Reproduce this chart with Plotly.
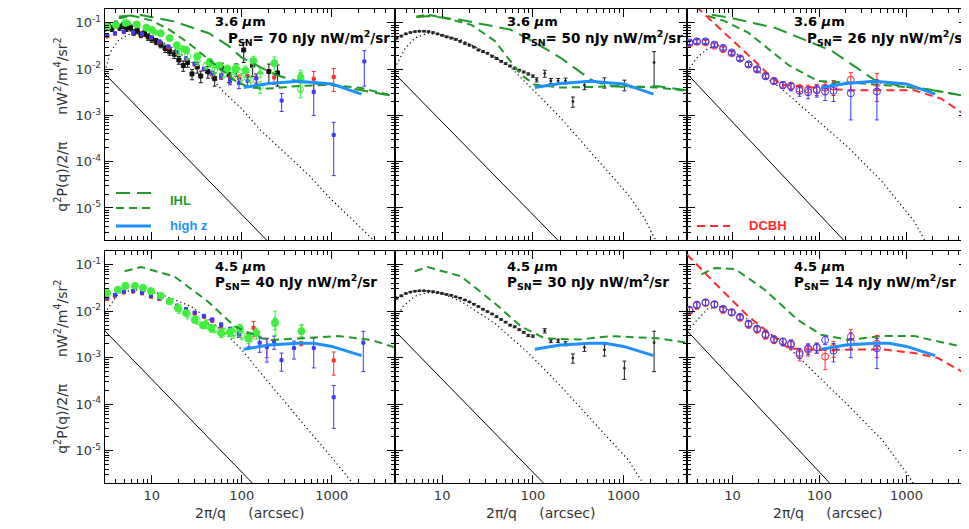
import math
import plotly.graph_objects as go

W, H = 969, 529

# ---------------- axis ranges ----------------
X_RANGE = [3.0, 5000.0]
Y_RANGE = [2e-6, 0.2]
X_TICKS = [10, 100, 1000]
X_TICKTEXT = ["10", "100", "1000"]
Y_TICKS = [1e-5, 1e-4, 1e-3, 1e-2, 1e-1]
Y_TICKTEXT = ["10<sup>-5</sup>", "10<sup>-4</sup>", "10<sup>-3</sup>", "10<sup>-2</sup>", "10<sup>-1</sup>"]

# ---------------- panel labels ----------------
band_labels = ["3.6", "3.6", "3.6", "4.5", "4.5", "4.5"]
psn_values = [70, 50, 26, 40, 30, 14]

# ---------------- shot-noise power law (solid black) ----------------
sn_x = [3.0, 5000.0]
sn_top_y = [8.0e-3, 2.88e-9]
sn_bot_y = [3.8e-3, 1.37e-9]

# ---------------- high-z model (blue) ----------------
hz_top_x = [105, 200, 427, 1000, 2138]
hz_top_y = [0.0040, 0.0049, 0.0055, 0.0048, 0.0029]
hz_bot_x = [105, 200, 427, 630, 1000, 2138]
hz_bot_y = [0.00151, 0.00186, 0.00204, 0.00204, 0.00174, 0.0011]

# ================= TOP-LEFT (3.6um, P_SN=70) =================
tl_dot_x = [3.0, 3.5, 4.3, 5.5, 7.1, 10, 15.8, 25, 43, 63, 98, 158, 316, 562, 912, 1585, 2754, 5000]
tl_dot_y = [0.0089, 0.024, 0.043, 0.056, 0.062, 0.050, 0.032, 0.0166, 0.0076, 0.0032, 0.00145,
            5.0e-4, 1.41e-4, 5.0e-5, 1.78e-5, 6.3e-6, 2.24e-6, 8e-7]
tl_ihl1_x = [4.3, 7.6, 17.8, 43, 71, 100, 234, 427, 1175, 2138, 5000]
tl_ihl1_y = [0.138, 0.148, 0.107, 0.060, 0.032, 0.0178, 0.0076, 0.0054, 0.0043, 0.0035, 0.0026]
tl_ihl2_x = [4.3, 6.3, 10, 15.8, 25, 40, 63, 89, 126, 200, 398, 912, 2138, 5000]
tl_ihl2_y = [0.126, 0.141, 0.112, 0.071, 0.038, 0.0178, 0.0089, 0.0052, 0.0040, 0.0038, 0.0043,
             0.0046, 0.0039, 0.0026]
tl_blk_x = [3.0, 3.3, 3.6, 4.0, 4.4, 4.8, 5.2, 5.8, 6.3, 6.9, 7.6, 8.3, 9.1, 10, 11.2, 12.6, 14.1,
            15.8, 17.8, 20, 22.4, 25, 28, 32, 35, 42, 50, 60, 72, 87, 105, 132, 200, 250]
tl_blk_y = [0.079, 0.087, 0.076, 0.095, 0.081, 0.089, 0.076, 0.079, 0.063, 0.068, 0.056, 0.060,
            0.050, 0.045, 0.040, 0.034, 0.028, 0.024, 0.021, 0.0158, 0.012, 0.014, 0.0079, 0.0112,
            0.0071, 0.0089, 0.0063, 0.0105, 0.0076, 0.0100, 0.026, 0.0120, 0.0089, 0.0083]
tl_blk_e = [0.012, 0.013, 0.011, 0.014, 0.012, 0.013, 0.011, 0.012, 0.009, 0.010, 0.008, 0.009,
            0.008, 0.007, 0.006, 0.005, 0.005, 0.004, 0.004, 0.003, 0.003, 0.003, 0.002, 0.003,
            0.002, 0.0025, 0.002, 0.003, 0.0025, 0.003, 0.012, 0.005, 0.004, 0.004]
tl_grn_x = [3.2, 4.0, 5.1, 6.8, 8.7, 10, 12.6, 15.8, 19, 24, 32, 44, 56, 69, 85, 110, 135, 230, 450]
tl_grn_y = [0.083, 0.090, 0.100, 0.093, 0.079, 0.071, 0.060, 0.047, 0.033, 0.026, 0.019, 0.0145,
            0.012, 0.0102, 0.0102, 0.0093, 0.0150, 0.0135, 0.0059]
tl_grn_e = [0.01, 0.01, 0.012, 0.011, 0.01, 0.009, 0.008, 0.006, 0.005, 0.004, 0.003, 0.0025,
            0.002, 0.002, 0.0025, 0.0025, 0.004, 0.005, 0.0025]
tl_gro_x = [20, 25, 32, 40, 50, 63, 80, 100, 126, 160, 450]
tl_gro_y = [0.024, 0.019, 0.015, 0.012, 0.0095, 0.008, 0.0072, 0.0065, 0.0058, 0.0042, 0.0036]
tl_gro_e = [0.004, 0.003, 0.003, 0.002, 0.002, 0.0015, 0.0015, 0.0015, 0.0015, 0.0012, 0.0012]
tl_grt_x = [5.5, 11, 22, 45, 90, 160, 450]
tl_grt_y = [0.10, 0.062, 0.028, 0.013, 0.0105, 0.0085, 0.0075]
tl_grt_e = [0.01, 0.007, 0.004, 0.002, 0.002, 0.002, 0.002]
tl_red_x = [3.2, 3.9, 4.9, 6.2, 7.8, 9.8, 12.2, 15.3, 19.2, 24, 30, 38, 47, 59, 74, 93, 116, 145,
            229, 630, 1050]
tl_red_y = [0.051, 0.058, 0.063, 0.062, 0.056, 0.048, 0.038, 0.0295, 0.022, 0.0166, 0.0126, 0.0100,
            0.0079, 0.0069, 0.0060, 0.0063, 0.0071, 0.0066, 0.0066, 0.0062, 0.0068]
tl_red_e = [0.002, 0.002, 0.002, 0.002, 0.002, 0.002, 0.0015, 0.0012, 0.001, 0.0009, 0.0008, 0.0008,
            0.0008, 0.0009, 0.001, 0.0012, 0.0015, 0.0015, 0.0019, 0.0027, 0.0035]
tl_blu_x = [3.2, 3.9, 4.9, 6.2, 7.8, 9.8, 12.2, 15.3, 19.2, 24, 30, 38, 47, 59, 74, 93, 116, 145,
            277, 630, 1050, 2300]
tl_blu_y = [0.054, 0.060, 0.065, 0.063, 0.058, 0.049, 0.040, 0.031, 0.0234, 0.0174, 0.0132, 0.0102,
            0.0083, 0.0071, 0.0056, 0.0050, 0.0056, 0.0063, 0.0021, 0.0032, 0.00038, 0.0147]
tl_blu_e = [0.002, 0.002, 0.002, 0.002, 0.002, 0.002, 0.0015, 0.0012, 0.001, 0.0009, 0.0008, 0.0008,
            0.0008, 0.0009, 0.001, 0.0012, 0.0015, 0.0015, 0.00088, 0.0022, 0.00033, 0.0104]

# ================= TOP-MIDDLE (3.6um, P_SN=50) =================
tm_dot_x = [3.0, 3.9, 5.0, 6.9, 10, 16.2, 25, 38, 58, 89, 135, 204, 316, 479, 724, 1122, 1698, 2188, 3162]
tm_dot_y = [0.0105, 0.028, 0.047, 0.060, 0.054, 0.043, 0.028, 0.0186, 0.0105, 0.0046, 0.0020,
            8.7e-4, 3.2e-4, 1.29e-4, 5.2e-5, 1.95e-5, 6.0e-6, 2.24e-6, 1.0e-6]
tm_ihl1_x = [5.2, 7.1, 15.8, 56, 105, 204, 437, 617, 1122, 2399, 5000]
tm_ihl1_y = [0.132, 0.141, 0.117, 0.072, 0.038, 0.0174, 0.0059, 0.0046, 0.0040, 0.0043, 0.0035]
tm_ihl2_x = [5.2, 6.9, 10, 21, 38, 74, 105, 204, 1122, 2399, 5000]
tm_ihl2_y = [0.138, 0.151, 0.132, 0.091, 0.041, 0.0076, 0.0046, 0.0040, 0.0043, 0.0040, 0.0034]
tm_blk_x = [3.16, 3.55, 3.98, 4.47, 5.01, 5.62, 6.31, 7.08, 7.94, 8.91, 10, 11.2, 12.6, 14.1, 15.8,
            17.8, 20, 22.4, 25.1, 28.2, 31.6, 35.5, 39.8, 44.7, 50.1, 56.2, 63.1, 70.8, 79.4, 89.1,
            100, 110, 135, 158, 190, 229, 276, 370, 615, 1020, 2170]
tm_blk_y = [0.047, 0.052, 0.058, 0.062, 0.065, 0.066, 0.066, 0.065, 0.062, 0.058, 0.054, 0.050,
            0.047, 0.044, 0.040, 0.036, 0.033, 0.030, 0.026, 0.024, 0.022, 0.019, 0.017, 0.0148,
            0.0132, 0.0117, 0.0105, 0.0095, 0.0087, 0.0079, 0.0071, 0.0059, 0.0081, 0.0056, 0.0056,
            0.0056, 0.0020, 0.0045, 0.0052, 0.0046, 0.0140]
tm_blk_e = [0.002, 0.002, 0.002, 0.002, 0.002, 0.002, 0.002, 0.002, 0.002, 0.002, 0.002, 0.002,
            0.0018, 0.0017, 0.0016, 0.0014, 0.0013, 0.0012, 0.0011, 0.001, 0.0009, 0.0008, 0.0007,
            0.0006, 0.0006, 0.0005, 0.0005, 0.0004, 0.0004, 0.0004, 0.0004, 0.0006, 0.0014, 0.0007,
            0.0007, 0.0008, 0.0005, 0.0009, 0.0013, 0.0012, 0.010]

# ================= TOP-RIGHT (3.6um, P_SN=26) =================
tr_dot_x = [3.0, 4.0, 5.2, 7.1, 10, 15.8, 24, 36, 89, 219, 525, 1230, 1622, 2512]
tr_dot_y = [0.0089, 0.0186, 0.028, 0.033, 0.025, 0.0132, 0.0065, 0.0039, 8.7e-4, 1.95e-4, 3.7e-5,
            5.1e-6, 2.0e-6, 6.3e-7]
tr_ihl1_x = [5.8, 10, 31, 138, 427, 871, 1995, 5000]
tr_ihl1_y = [0.151, 0.126, 0.078, 0.025, 0.0059, 0.0043, 0.0035, 0.0026]
tr_ihl2_x = [5.2, 7.9, 15.1, 44, 95, 513, 1585, 5000]
tr_ihl2_y = [0.141, 0.112, 0.062, 0.0123, 0.0056, 0.0046, 0.0038, 0.0026]
tr_dcbh_x = [3.0, 4.0, 15.1, 28, 36, 87, 214, 1230, 2512, 5000]
tr_dcbh_y = [0.355, 0.209, 0.0204, 0.0068, 0.0046, 0.0040, 0.0035, 0.0035, 0.0023, 0.00095]
tr_pts_x = [3.2, 3.9, 4.9, 6.2, 7.8, 9.8, 12.2, 15.3, 19.2, 24, 30, 38, 47, 59, 74, 93, 116, 145, 229, 457]
tr_red_y = [0.036, 0.039, 0.038, 0.032, 0.027, 0.022, 0.017, 0.0126, 0.0098, 0.0072, 0.0056, 0.0046,
            0.0044, 0.0038, 0.0036, 0.0037, 0.0040, 0.0042, 0.0059, 0.0050]
tr_red_e = [0.004, 0.004, 0.004, 0.003, 0.003, 0.002, 0.0017, 0.0013, 0.001, 0.0008, 0.0007, 0.0007,
            0.0008, 0.0008, 0.0009, 0.001, 0.0012, 0.0015, 0.0025, 0.0030]
tr_blu_y = [0.038, 0.040, 0.040, 0.034, 0.029, 0.023, 0.017, 0.0128, 0.0100, 0.0070, 0.0055, 0.0045,
            0.0042, 0.0034, 0.0032, 0.0035, 0.0033, 0.0034, 0.0030, 0.0033]
tr_blu_e = [0.004, 0.004, 0.004, 0.003, 0.003, 0.002, 0.0017, 0.0013, 0.001, 0.0008, 0.0007, 0.0007,
            0.0008, 0.0008, 0.0009, 0.001, 0.0012, 0.0014, 0.0022, 0.0025]

# ================= BOTTOM-LEFT (4.5um, P_SN=40) =================
bl_dot_x = [3.0, 4.3, 6.5, 11.7, 27.5, 43, 65, 100, 151, 234, 355, 550, 1000, 1698, 2512]
bl_dot_y = [0.0091, 0.0245, 0.029, 0.0245, 0.0126, 0.0066, 0.0034, 0.00148, 5.5e-4, 2.04e-4,
            7.6e-5, 2.75e-5, 7.1e-6, 2.0e-6, 8e-7]
bl_ihl_x = [5.0, 7.6, 17.8, 42, 83, 166, 214, 501, 1175, 2754, 5000]
bl_ihl_y = [0.072, 0.089, 0.056, 0.0162, 0.0047, 0.0026, 0.0024, 0.0026, 0.0029, 0.0024, 0.00166]
bl_red_x = [3.2, 3.9, 4.9, 6.2, 7.8, 9.8, 12.2, 15.3, 19.2, 24, 30, 38, 47, 59, 74, 93, 116, 135,
            190, 457, 1050]
bl_red_y = [0.0182, 0.0214, 0.0251, 0.0263, 0.024, 0.0204, 0.0182, 0.0155, 0.0126, 0.0105, 0.0089,
            0.0076, 0.0063, 0.0048, 0.0038, 0.0033, 0.0028, 0.0044, 0.0018, 0.0020, 0.00087]
bl_red_e = [0.0012, 0.0012, 0.0012, 0.0012, 0.0012, 0.001, 0.001, 0.0009, 0.0008, 0.0007, 0.0006,
            0.0005, 0.0005, 0.0005, 0.0005, 0.0005, 0.0005, 0.0016, 0.0008, 0.0002, 0.00045]
bl_blu_x = [3.2, 3.9, 4.9, 6.2, 7.8, 9.8, 12.2, 15.3, 19.2, 24, 30, 38, 47, 59, 74, 93, 120, 158,
            190, 229, 276, 380, 630, 1050, 2240]
bl_blu_y = [0.0195, 0.0224, 0.0263, 0.0275, 0.025, 0.0214, 0.019, 0.0162, 0.0132, 0.0110, 0.0093,
            0.0079, 0.0066, 0.0051, 0.0040, 0.0032, 0.0024, 0.0021, 0.0017, 0.0022, 0.00088, 0.0016,
            0.0016, 0.00014, 0.0021]
bl_blu_e = [0.0012, 0.0012, 0.0012, 0.0012, 0.0012, 0.001, 0.001, 0.0009, 0.0008, 0.0007, 0.0006,
            0.0005, 0.0005, 0.0005, 0.0005, 0.0005, 0.0007, 0.0008, 0.0009, 0.0007, 0.00037, 0.00067,
            0.0010, 0.00011, 0.0016]
bl_grn_x = [3.2, 4.2, 5.1, 6.5, 8.0, 9.8, 12.6, 15.8, 19.5, 24, 30, 37, 46, 59, 74, 95, 118, 145, 234, 460]
bl_grn_y = [0.0245, 0.029, 0.035, 0.035, 0.032, 0.027, 0.0214, 0.0162, 0.0117, 0.0091, 0.0065,
            0.0050, 0.0043, 0.0034, 0.0035, 0.0043, 0.0026, 0.0034, 0.0055, 0.0037]
bl_grn_e = [0.003, 0.003, 0.004, 0.004, 0.003, 0.003, 0.0025, 0.002, 0.0015, 0.0012, 0.001, 0.0008,
            0.0008, 0.0007, 0.0007, 0.0009, 0.0006, 0.0009, 0.0015, 0.0012]
bl_gro_x = [20, 25, 32, 40, 50, 63, 80, 100, 126]
bl_gro_y = [0.011, 0.0085, 0.0065, 0.0052, 0.0042, 0.0036, 0.0032, 0.0030, 0.0028]
bl_gro_e = [0.002, 0.0017, 0.0013, 0.001, 0.0008, 0.0007, 0.0006, 0.0006, 0.0006]
bl_grt_x = [5.0, 10, 20, 40, 80, 234, 460]
bl_grt_y = [0.033, 0.026, 0.012, 0.0055, 0.0038, 0.0065, 0.0040]
bl_grt_e = [0.004, 0.003, 0.0015, 0.001, 0.0008, 0.0035, 0.0012]

# ================= BOTTOM-MIDDLE (4.5um, P_SN=30) =================
bm_dot_x = [3.0, 3.7, 5.0, 6.9, 9.8, 16.2, 38, 89, 204, 479, 1122, 1585, 2239]
bm_dot_y = [0.0060, 0.0126, 0.021, 0.025, 0.0245, 0.0162, 0.0055, 0.00126, 2.4e-4, 3.9e-5, 6.3e-6,
            2.2e-6, 8e-7]
bm_ihl_x = [5.0, 6.9, 16.2, 38, 74, 135, 316, 724, 2399, 5000]
bm_ihl_y = [0.072, 0.089, 0.056, 0.0148, 0.0047, 0.0026, 0.00245, 0.0029, 0.0026, 0.0021]
bm_blk_x = [3.16, 3.55, 3.98, 4.47, 5.01, 5.62, 6.31, 7.08, 7.94, 8.91, 10, 11.2, 12.6, 14.1, 15.8,
            17.8, 20, 22.4, 25.1, 28.2, 31.6, 35.5, 39.8, 44.7, 50.1, 56.2, 63.1, 70.8, 79.4, 89.1,
            100, 135, 158, 190, 229, 276, 370, 615, 1020, 2170]
bm_blk_y = [0.0191, 0.0214, 0.024, 0.0257, 0.0269, 0.0275, 0.0275, 0.0269, 0.0263, 0.0251, 0.024,
            0.0229, 0.0219, 0.0204, 0.0191, 0.0174, 0.0158, 0.0141, 0.0126, 0.011, 0.0098, 0.0087,
            0.0076, 0.0066, 0.0058, 0.0050, 0.0046, 0.0040, 0.0035, 0.0030, 0.0029, 0.0038, 0.0023,
            0.0023, 0.0020, 0.00098, 0.00166, 0.00148, 0.00059, 0.0021]
bm_blk_e = [0.0008, 0.0008, 0.0008, 0.0008, 0.0008, 0.0008, 0.0008, 0.0008, 0.0008, 0.0008, 0.0008,
            0.0007, 0.0007, 0.0006, 0.0006, 0.0005, 0.0005, 0.0005, 0.0004, 0.0004, 0.0003, 0.0003,
            0.0003, 0.0002, 0.0002, 0.0002, 0.0002, 0.00015, 0.00015, 0.00015, 0.00015, 0.0004,
            0.0002, 0.0002, 0.0002, 0.00022, 0.0003, 0.0004, 0.00025, 0.0016]

# ================= BOTTOM-RIGHT (4.5um, P_SN=14) =================
br_dot_x = [3.0, 4.0, 5.2, 7.1, 10, 15.8, 25, 36, 89, 219, 525, 1072, 1400]
br_dot_y = [0.0038, 0.0066, 0.0112, 0.0126, 0.0100, 0.0063, 0.0035, 0.0024, 4.7e-4, 8.9e-5, 1.7e-5,
            2.75e-6, 1.2e-6]
br_ihl_x = [4.4, 6.3, 10.7, 23.4, 56, 105, 214, 513, 1230, 5000]
br_ihl_y = [0.062, 0.085, 0.081, 0.029, 0.0065, 0.0031, 0.0024, 0.0029, 0.0029, 0.00162]
br_dcbh_x = [3.0, 6.2, 15.1, 44, 105, 513, 1230, 2291, 5000]
br_dcbh_y = [0.166, 0.041, 0.0078, 0.00158, 0.00145, 0.00151, 0.00126, 0.00098, 4.3e-4]
br_pts_x = [3.2, 3.9, 4.9, 6.2, 7.8, 9.8, 12.2, 15.3, 19.2, 24, 30, 38, 47, 59, 74, 93, 116, 145, 229, 457]
br_red_y = [0.0102, 0.0132, 0.0151, 0.0138, 0.0107, 0.0093, 0.0072, 0.0051, 0.0040, 0.0030, 0.0024,
            0.0022, 0.0019, 0.00115, 0.00148, 0.00162, 0.00105, 0.00162, 0.0028, 0.0020]
br_blu_y = [0.0107, 0.0138, 0.0155, 0.0141, 0.0112, 0.0095, 0.0076, 0.0054, 0.0042, 0.0032, 0.0025,
            0.0022, 0.0020, 0.00126, 0.00158, 0.00166, 0.0024, 0.00141, 0.0022, 0.00158]
br_pts_e = [0.0018, 0.0022, 0.0022, 0.002, 0.0016, 0.0013, 0.001, 0.0008, 0.0006, 0.0005, 0.0004,
            0.0004, 0.0004, 0.0003, 0.0004, 0.0004, 0.0005, 0.0006, 0.0012, 0.0010]

# ---------------- styles ----------------
C_IHL = "#1f9a2a"
C_GRN = "#40ee40"
C_HZ = "#1e90ff"
C_RED = "#ff2a2a"
C_BLU = "#3a3aff"
C_DOT = "#000000"
FONT_TXT = "DejaVu Sans"

cols_px = [(96.7, 386.7), (386.7, 679.0), (679.0, 959.3)]
rows_px = [(1.0, 232.3), (242.7, 475.0)]

fig = go.Figure()


def ax_names(i):
    s = "" if i == 1 else str(i)
    return "x" + s, "y" + s


def add_line(i, x, y, color, width, dash="solid"):
    xa, ya = ax_names(i)
    fig.add_trace(go.Scatter(x=x, y=y, mode="lines", xaxis=xa, yaxis=ya,
                             line=dict(color=color, width=width, dash=dash),
                             showlegend=False, hoverinfo="skip"))


def add_pts(i, x, y, err, color, symbol, size, lw=1):
    xa, ya = ax_names(i)
    fig.add_trace(go.Scatter(x=x, y=y, mode="markers", xaxis=xa, yaxis=ya,
                             marker=dict(color=color, symbol=symbol, size=size,
                                         line=dict(color=color, width=lw)),
                             error_y=dict(type="data", array=err, visible=True, color=color,
                                          thickness=1, width=2),
                             showlegend=False, hoverinfo="skip"))


DASH_LONG = "14px,7px"
DASH_SHORT = "8px,5px"
DASH_DOT = "1.2px,3px"

# panel 1 : top-left
add_line(1, tl_dot_x, tl_dot_y, C_DOT, 1.2, DASH_DOT)
add_line(1, sn_x, sn_top_y, "#000", 1)
add_pts(1, tl_blk_x, tl_blk_y, tl_blk_e, "#111", "square", 4)
add_pts(1, tl_red_x, tl_red_y, tl_red_e, C_RED, "square", 3)
add_pts(1, tl_blu_x, tl_blu_y, tl_blu_e, C_BLU, "square", 3)
add_pts(1, tl_gro_x, tl_gro_y, tl_gro_e, C_GRN, "circle-open", 6)
add_pts(1, tl_grt_x, tl_grt_y, tl_grt_e, C_GRN, "triangle-up", 6)
add_pts(1, tl_grn_x, tl_grn_y, tl_grn_e, C_GRN, "circle", 7)
add_line(1, tl_ihl1_x, tl_ihl1_y, C_IHL, 2, DASH_LONG)
add_line(1, tl_ihl2_x, tl_ihl2_y, C_IHL, 2, DASH_SHORT)
add_line(1, hz_top_x, hz_top_y, C_HZ, 3)

# panel 2 : top-middle
add_line(2, tm_dot_x, tm_dot_y, C_DOT, 1.2, DASH_DOT)
add_line(2, sn_x, sn_top_y, "#000", 1)
add_pts(2, tm_blk_x, tm_blk_y, tm_blk_e, "#222", "circle", 2)
add_line(2, tm_ihl1_x, tm_ihl1_y, C_IHL, 2, DASH_LONG)
add_line(2, tm_ihl2_x, tm_ihl2_y, C_IHL, 2, DASH_SHORT)
add_line(2, hz_top_x, hz_top_y, C_HZ, 3)

# panel 3 : top-right
add_line(3, tr_dot_x, tr_dot_y, C_DOT, 1.2, DASH_DOT)
add_line(3, sn_x, sn_top_y, "#000", 1)
add_line(3, tr_ihl1_x, tr_ihl1_y, C_IHL, 2, DASH_LONG)
add_line(3, tr_ihl2_x, tr_ihl2_y, C_IHL, 2, DASH_SHORT)
add_line(3, tr_dcbh_x, tr_dcbh_y, C_RED, 2, DASH_SHORT)
add_pts(3, tr_pts_x, tr_red_y, tr_red_e, C_RED, "circle-open", 7)
add_pts(3, tr_pts_x, tr_blu_y, tr_blu_e, C_BLU, "circle-open", 7)
add_line(3, hz_top_x, hz_top_y, C_HZ, 3)

# panel 4 : bottom-left
add_line(4, bl_dot_x, bl_dot_y, C_DOT, 1.2, DASH_DOT)
add_line(4, sn_x, sn_bot_y, "#000", 1)
add_pts(4, bl_red_x, bl_red_y, bl_red_e, C_RED, "square", 3)
add_pts(4, bl_blu_x, bl_blu_y, bl_blu_e, C_BLU, "square", 3)
add_pts(4, bl_gro_x, bl_gro_y, bl_gro_e, C_GRN, "circle-open", 6)
add_pts(4, bl_grt_x, bl_grt_y, bl_grt_e, C_GRN, "triangle-up", 6)
add_pts(4, bl_grn_x, bl_grn_y, bl_grn_e, C_GRN, "circle", 7)
add_line(4, bl_ihl_x, bl_ihl_y, C_IHL, 2, DASH_SHORT)
add_line(4, hz_bot_x, hz_bot_y, C_HZ, 3)

# panel 5 : bottom-middle
add_line(5, bm_dot_x, bm_dot_y, C_DOT, 1.2, DASH_DOT)
add_line(5, sn_x, sn_bot_y, "#000", 1)
add_pts(5, bm_blk_x, bm_blk_y, bm_blk_e, "#222", "circle", 2)
add_line(5, bm_ihl_x, bm_ihl_y, C_IHL, 2, DASH_SHORT)
add_line(5, hz_bot_x, hz_bot_y, C_HZ, 3)

# panel 6 : bottom-right
add_line(6, br_dot_x, br_dot_y, C_DOT, 1.2, DASH_DOT)
add_line(6, sn_x, sn_bot_y, "#000", 1)
add_line(6, br_ihl_x, br_ihl_y, C_IHL, 2, DASH_SHORT)
add_line(6, br_dcbh_x, br_dcbh_y, C_RED, 2, DASH_SHORT)
add_pts(6, br_pts_x, br_red_y, br_pts_e, C_RED, "circle-open", 7)
add_pts(6, br_pts_x, br_blu_y, br_pts_e, C_BLU, "circle-open", 7)
add_line(6, hz_bot_x, hz_bot_y, C_HZ, 3)

# ---------------- axes ----------------
x_minor = [m * 10 ** d for d in range(0, 4) for m in range(2, 10) if 3 <= m * 10 ** d <= 5000]
y_minor = [m * 10.0 ** d for d in range(-6, 0) for m in range(2, 10) if 2e-6 <= m * 10.0 ** d <= 0.2]
tick_font = dict(family=FONT_TXT, size=13, color="#333")

layout = dict(width=W, height=H, margin=dict(l=0, r=0, t=0, b=0),
              paper_bgcolor="white", plot_bgcolor="white", showlegend=False)

for r in range(2):
    for c in range(3):
        i = r * 3 + c + 1
        s = "" if i == 1 else str(i)
        x0, x1 = cols_px[c]
        y0, y1 = rows_px[r]
        common = dict(showline=True, linecolor="#000", linewidth=1, mirror="allticks",
                      ticks="inside", ticklen=8, tickwidth=1, tickcolor="#000",
                      showgrid=False, zeroline=False, tickfont=tick_font)
        layout["xaxis" + s] = dict(
            type="log", range=[math.log10(X_RANGE[0]), math.log10(X_RANGE[1])],
            domain=[x0 / W, x1 / W], anchor="y" + s,
            tickmode="array", tickvals=X_TICKS, ticktext=X_TICKTEXT,
            showticklabels=(r == 1),
            minor=dict(tickmode="array", tickvals=x_minor, ticks="inside", ticklen=4,
                       tickcolor="#000", showgrid=False),
            **common)
        layout["yaxis" + s] = dict(
            type="log", range=[math.log10(Y_RANGE[0]), math.log10(Y_RANGE[1])],
            domain=[1 - y1 / H, 1 - y0 / H], anchor="x" + s,
            tickmode="array", tickvals=Y_TICKS, ticktext=Y_TICKTEXT,
            showticklabels=(c == 0),
            minor=dict(tickmode="array", tickvals=y_minor, ticks="inside", ticklen=4,
                       tickcolor="#000", showgrid=False),
            **common)

fig.update_layout(**layout)

# ---------------- text ----------------
ann = []
NB = "\u00a0"
ytitle = ("q<sup>2</sup>P(q)/2/π" + NB * 6 + "nW<sup>2</sup>/m<sup>4</sup>/sr<sup>2</sup>")
xtitle = "2π/q" + NB * 5 + "(arcsec)"
for r in range(2):
    y0, y1 = rows_px[r]
    ann.append(dict(x=53 / W, y=1 - (y0 + y1) / 2 / H, xref="paper", yref="paper", text=ytitle,
                    textangle=-90, showarrow=False, xanchor="center", yanchor="middle",
                    font=dict(family=FONT_TXT, size=14, color="#333")))
for c in range(3):
    x0, x1 = cols_px[c]
    ann.append(dict(x=(x0 + x1) / 2 / W, y=1 - 505 / H, xref="paper", yref="paper", text=xtitle,
                    showarrow=False, xanchor="center", yanchor="middle",
                    font=dict(family=FONT_TXT, size=14, color="#333")))

label_pos = [(205, 13, 218, 30), (497, 13, 511, 30), (784, 13, 797, 30),
             (205, 258, 205, 274), (497, 258, 497, 274), (784, 258, 784, 274)]
for k, (bx, by, px, py) in enumerate(label_pos):
    ann.append(dict(x=bx / W, y=1 - by / H, xref="paper", yref="paper",
                    text="<b>%s <i>μ</i>m</b>" % band_labels[k], showarrow=False,
                    xanchor="left", yanchor="middle",
                    font=dict(family=FONT_TXT, size=13, color="#000")))
    ann.append(dict(x=px / W, y=1 - py / H, xref="paper", yref="paper",
                    text="<b>P<sub>SN</sub>= %d nJy nW/m<sup>2</sup>/sr</b>" % psn_values[k],
                    showarrow=False, xanchor="left", yanchor="middle",
                    font=dict(family=FONT_TXT, size=13.5, color="#000")))

# legend texts
LEG_FONT = "Liberation Sans"
ann.append(dict(x=160 / W, y=1 - 193 / H, xref="paper", yref="paper", text="<b>IHL</b>",
                showarrow=False, xanchor="left", yanchor="middle",
                font=dict(family=LEG_FONT, size=13, color=C_IHL)))
ann.append(dict(x=160 / W, y=1 - 218 / H, xref="paper", yref="paper", text="<b>high z</b>",
                showarrow=False, xanchor="left", yanchor="middle",
                font=dict(family=LEG_FONT, size=13, color=C_HZ)))
ann.append(dict(x=739 / W, y=1 - 218 / H, xref="paper", yref="paper", text="<b>DCBH</b>",
                showarrow=False, xanchor="left", yanchor="middle",
                font=dict(family=LEG_FONT, size=13, color=C_RED)))

shapes = []
def leg_line(xa, xb, yy, color, width, dash):
    shapes.append(dict(type="line", xref="paper", yref="paper", x0=xa / W, x1=xb / W,
                       y0=1 - yy / H, y1=1 - yy / H, line=dict(color=color, width=width, dash=dash)))

leg_line(108, 143, 185, C_IHL, 2, DASH_LONG)
leg_line(108, 143, 200, C_IHL, 2, DASH_SHORT)
leg_line(108, 143, 218, C_HZ, 3, "solid")
leg_line(689, 722, 218, C_RED, 2, DASH_SHORT)

fig.update_layout(annotations=ann, shapes=shapes)
fig.write_html("out.html")
